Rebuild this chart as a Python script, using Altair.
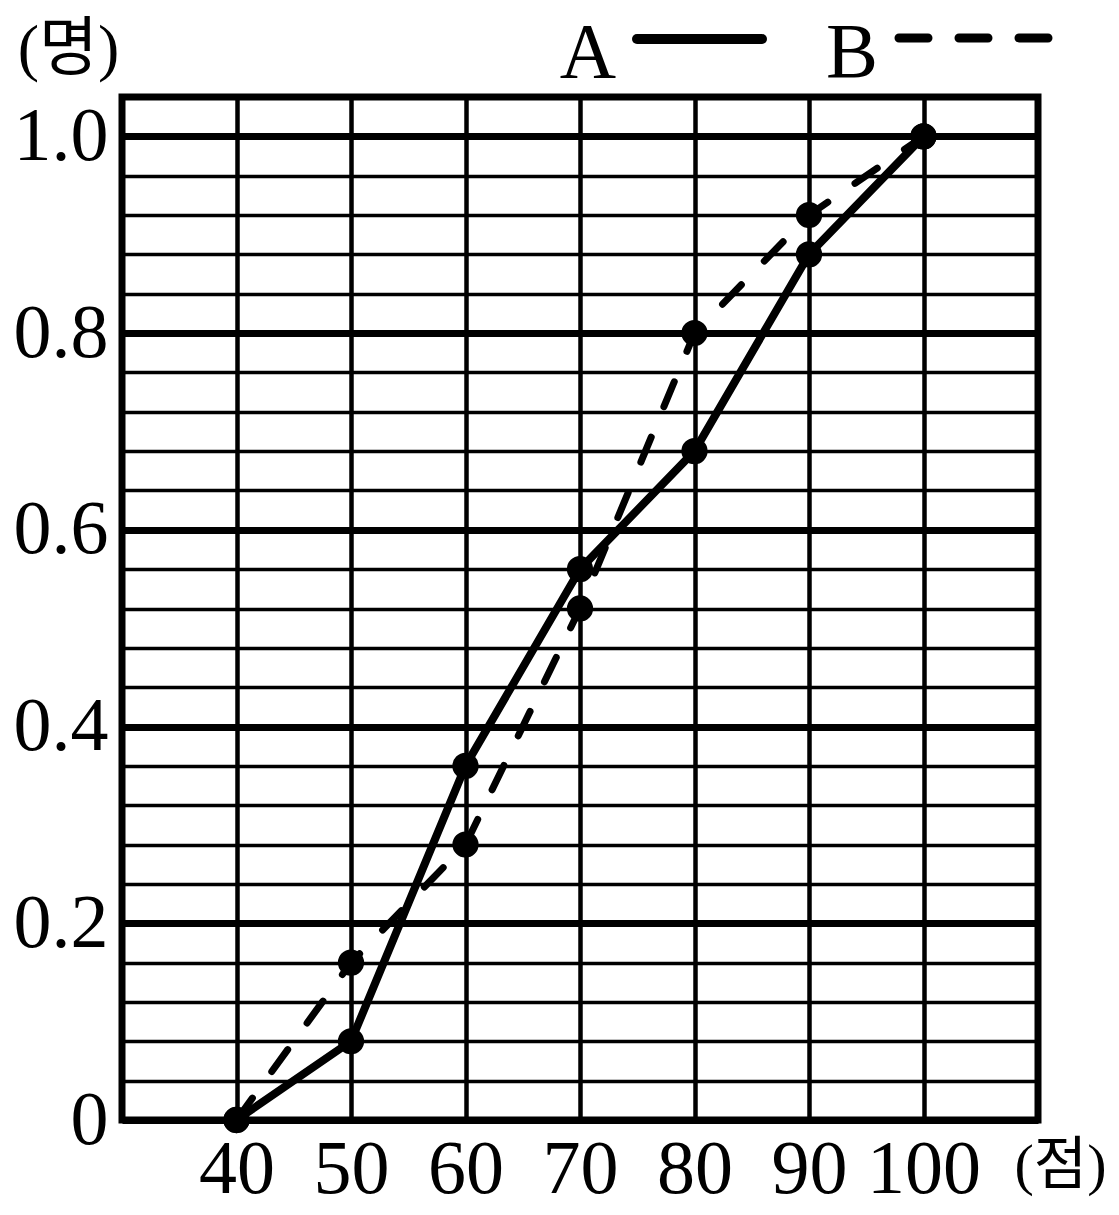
import altair as alt
import pandas as pd

# ---- data ----
scores = [40, 50, 60, 70, 80, 90, 100]
series_a = [0.0, 0.08, 0.36, 0.56, 0.68, 0.88, 1.0]
series_b = [0.0, 0.16, 0.28, 0.52, 0.80, 0.92, 1.0]
x_ticks = [40, 50, 60, 70, 80, 90, 100]
y_grid = [0.0, 0.04, 0.08, 0.12, 0.16, 0.2, 0.24, 0.28, 0.32, 0.36, 0.4,
          0.44, 0.48, 0.52, 0.56, 0.6, 0.64, 0.68, 0.72, 0.76, 0.8,
          0.84, 0.88, 0.92, 0.96, 1.0]
legend_labels = ["A", "B"]
x_unit = "(점)"
y_unit = "(명)"

df = pd.DataFrame({
    "score": scores * 2,
    "value": series_a + series_b,
    "series": ["A"] * len(scores) + ["B"] * len(scores),
})

SERIF = "Liberation Serif, Noto Sans CJK KR"
major = "abs(datum.value*5 - round(datum.value*5)) < 0.001"

x_enc = alt.X(
    "score:Q",
    scale=alt.Scale(domain=[30, 110], nice=False, zero=False),
    axis=alt.Axis(
        values=x_ticks, grid=True, gridColor="black", gridWidth=4.5, gridOpacity=1,
        domain=False, ticks=False, labelFont=SERIF, labelFontSize=76,
        labelColor="black", labelPadding=12, labelFlush=False,
        title=x_unit, titleFont=SERIF, titleFontSize=58, titleFontWeight="normal",
        titleColor="black", titleX=938, titleY=46, titleAlign="center",
        titleBaseline="middle", titleAngle=0,
    ),
)
y_enc = alt.Y(
    "value:Q",
    scale=alt.Scale(domain=[0, 1.04], nice=False),
    axis=alt.Axis(
        values=y_grid, grid=True, gridColor="black", gridOpacity=1,
        gridWidth={"condition": {"test": major, "value": 7}, "value": 3.5},
        domain=False, ticks=False, labelFont=SERIF, labelFontSize=76,
        labelColor="black", labelPadding=14, labelAlign="right",
        labelBaseline="middle", labelFlush=False, labelOverlap=False,
        labelExpr=f"{major} ? (datum.value < 0.001 ? '0' : format(datum.value, '.1f')) : ''",
        title=y_unit, titleFont=SERIF, titleFontSize=64, titleFontWeight="normal",
        titleColor="black", titleX=-54, titleY=-48, titleAlign="center",
        titleBaseline="middle", titleAngle=0,
    ),
)

base = alt.Chart(df)

line_a = base.transform_filter("datum.series == 'A'").mark_line(
    color="black", strokeWidth=8, strokeJoin="round", strokeCap="round"
).encode(x=x_enc, y=y_enc)

line_b = base.transform_filter("datum.series == 'B'").mark_line(
    color="black", strokeWidth=7, strokeDash=[27, 33], strokeCap="round", strokeJoin="round"
).encode(x=x_enc, y=y_enc)

points = base.mark_point(filled=True, color="black", size=690, opacity=1).encode(
    x=x_enc, y=y_enc
)

one = alt.Data(values=[{"k": 1}])
leg_a_text = alt.Chart(one).mark_text(
    font=SERIF, fontSize=78, color="black", align="center", baseline="middle"
).encode(x=alt.value(466), y=alt.value(-43), text=alt.value(legend_labels[0]))
leg_a_line = alt.Chart(one).mark_rule(
    color="black", strokeWidth=10, strokeCap="round"
).encode(x=alt.value(515), x2=alt.value(640), y=alt.value(-58))
leg_b_text = alt.Chart(one).mark_text(
    font=SERIF, fontSize=78, color="black", align="center", baseline="middle"
).encode(x=alt.value(730), y=alt.value(-43), text=alt.value(legend_labels[1]))
leg_b_line = alt.Chart(one).mark_rule(
    color="black", strokeWidth=9, strokeCap="round", strokeDash=[29, 31]
).encode(x=alt.value(777), x2=alt.value(930), y=alt.value(-59))

chart = alt.layer(
    line_b, line_a, points, leg_a_text, leg_a_line, leg_b_text, leg_b_line
).properties(
    width=916, height=1023,
    autosize=alt.AutoSizeParams(type="none"),
    padding={"left": 114, "top": 89, "right": 73, "bottom": 95},
    background="white",
).configure_view(
    stroke="black", strokeWidth=7
)

chart.save("out.html", embed_options={"renderer": "svg", "actions": False})
